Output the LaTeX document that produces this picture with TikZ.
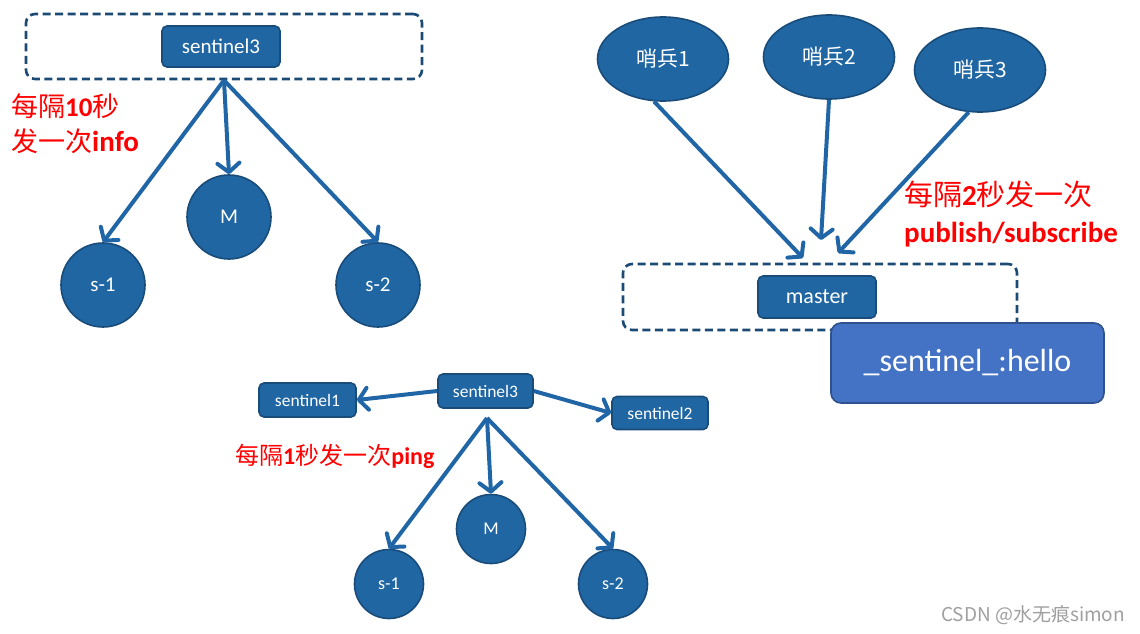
\documentclass[tikz,border=0pt]{standalone}
\usepackage{fontspec}
\setmainfont{Carlito}
\newfontfamily\cjk{Noto Sans CJK SC}
\usepackage{tikz}
\usetikzlibrary{positioning, arrows.meta, shapes.geometric}
\definecolor{nodeblue}{HTML}{1F66A2}
\definecolor{nodeedge}{HTML}{1A4C7A}
\definecolor{arrowblue}{HTML}{2065A5}
\definecolor{groupedge}{HTML}{1B4A74}
\definecolor{hellofill}{HTML}{4472C4}
\definecolor{helloedge}{HTML}{2F528F}

\begin{document}
\begin{tikzpicture}[x=1pt, y=-1pt,
  sentbox/.style={draw=nodeedge, line width=1.6pt, fill=nodeblue, rounded corners=5pt, text=white, inner sep=0pt},
  slave/.style={circle, draw=nodeedge, line width=1.6pt, fill=nodeblue, text=white, inner sep=0pt},
  guard/.style={ellipse, draw=nodeedge, line width=1.6pt, fill=nodeblue, text=white, minimum width=131pt, minimum height=84pt, inner sep=0pt, font=\cjk\fontsize{21}{25}\selectfont},
  dashgroup/.style={draw=groupedge, line width=2.6pt, dash pattern=on 8pt off 4.5pt, rounded corners=9pt, inner sep=0pt},
  arr/.style={draw=arrowblue, line width=4pt, -{Straight Barb[length=9pt, width=22pt, round]}},
  rednote/.style={text=red, anchor=west, inner sep=0pt, align=left}
]
\useasboundingbox (0,0) rectangle (1140,634);

% Top left: sentinel3 sends info every 10s
\node[dashgroup, minimum width=396pt, minimum height=65pt] (grp1) at (224,46.5) {};
\node[sentbox, minimum width=118pt, minimum height=41pt, font=\fontsize{21}{25}\selectfont] (top3) at (221,46.5) {sentinel3};
\node[slave, minimum size=84pt, font=\fontsize{21}{25}\selectfont] (ts1) at (103,285) {s-1};
\node[slave, minimum size=84pt, font=\fontsize{21}{25}\selectfont] (tm) at (229,217) {M};
\node[slave, minimum size=84pt, font=\fontsize{21}{25}\selectfont] (ts2) at (378,285) {s-2};
\draw[arr] (grp1.south) -- (ts1.north);
\draw[arr] (grp1.south) -- (tm.north);
\draw[arr] (grp1.south) -- (ts2.north);
\node[rednote, font=\fontsize{27}{35}\selectfont] (infonote) at (11,123.5)
  {{\cjk 每隔}\textbf{10}{\cjk 秒}\\{\cjk 发一次}{\fontsize{29}{35}\selectfont\textbf{info}}};

% Top right: sentinels publish/subscribe via master
\node[guard] (g1) at (663,59) {哨兵1};
\node[guard] (g2) at (829,57) {哨兵2};
\node[guard] (g3) at (980,70) {哨兵3};
\coordinate (tip1) at (803,258);
\coordinate (tip2) at (821,240);
\coordinate (tip3) at (838,253);
\draw[arr] (g1.258) -- (tip1);
\draw[arr] (g2.south) -- (tip2);
\draw[arr] (g3.255) -- (tip3);
\node[rednote, font=\fontsize{29}{37}\selectfont] (pubnote) at (904,214)
  {{\cjk 每隔}\textbf{2}{\cjk 秒发一次}\\\textbf{publish/subscribe}};
\node[dashgroup, minimum width=394pt, minimum height=66pt] (grp2) at (820,297) {};
\node[sentbox, minimum width=118pt, minimum height=42pt, font=\fontsize{22}{26}\selectfont] (mst) at (817,297) {master};
\node[draw=helloedge, line width=1.6pt, fill=hellofill, rounded corners=10pt, text=white, minimum width=273pt, minimum height=80pt, inner sep=0pt, font=\fontsize{32}{38}\selectfont] (hello) at (967.5,363) {\_sentinel\_:hello};

% Bottom: sentinel3 pings every 1s
\node[sentbox, minimum width=95pt, minimum height=34pt, font=\fontsize{17.5}{21}\selectfont] (bs3) at (485.5,391) {sentinel3};
\node[sentbox, minimum width=97pt, minimum height=34pt, font=\fontsize{17.5}{21}\selectfont] (bs1) at (307.5,400) {sentinel1};
\node[sentbox, minimum width=96pt, minimum height=33pt, font=\fontsize{17.5}{21}\selectfont] (bs2) at (660,413) {sentinel2};
\draw[arr] (bs3.west) -- (bs1.east);
\draw[arr] (bs3.east) -- (bs2.west);
\coordinate (fork) at (487,418);
\node[slave, minimum size=69pt, font=\fontsize{18}{22}\selectfont] (bl1) at (389,584) {s-1};
\node[slave, minimum size=69pt, font=\fontsize{18}{22}\selectfont] (blm) at (491,529) {M};
\node[slave, minimum size=69pt, font=\fontsize{18}{22}\selectfont] (bl2) at (613,584) {s-2};
\draw[arr] (fork) -- (bl1.north);
\draw[arr] (fork) -- (blm.north);
\draw[arr] (fork) -- (bl2.north);
\node[rednote, font=\fontsize{24}{28}\selectfont] (pingnote) at (235,456)
  {{\cjk 每隔}\textbf{1}{\cjk 秒发一次}\textbf{ping}};

% Watermark
\node[anchor=west, inner sep=0pt, text=gray!75, font=\cjk\fontsize{19}{22}\selectfont] (mark) at (941,615) {CSDN @水无痕simon};
\end{tikzpicture}
\end{document}
